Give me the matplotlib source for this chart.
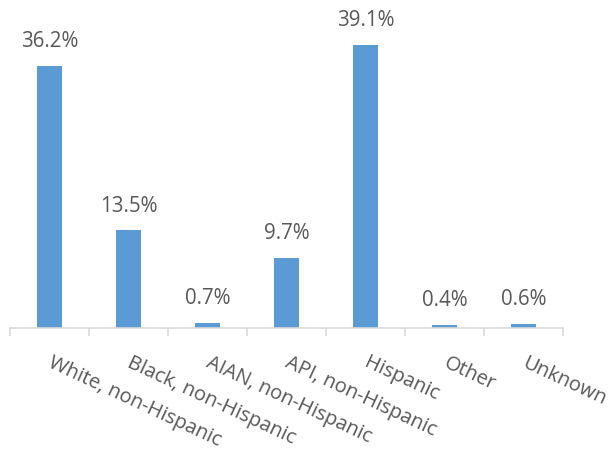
import matplotlib
matplotlib.use("Agg")
import matplotlib.pyplot as plt

categories = ["White, non-Hispanic", "Black, non-Hispanic", "AIAN, non-Hispanic",
              "API, non-Hispanic", "Hispanic", "Other", "Unknown"]
values = [36.2, 13.5, 0.7, 9.7, 39.1, 0.4, 0.6]
value_labels = ["36.2%", "13.5%", "0.7%", "9.7%", "39.1%", "0.4%", "0.6%"]

W, H = 610, 451
fig = plt.figure(figsize=(W / 100, H / 100), dpi=100)
ymax = 42
ax = fig.add_axes([10 / W, 123 / H, 553 / W, ymax * 7.23 / H])

bar_color = "#5B9BD5"
text_color = "#595959"
grid_color = "#D9D9D9"
font = "Open Sans"

x = list(range(len(categories)))
ax.bar(x, values, width=0.32, color=bar_color)
ax.set_xlim(-0.5, len(categories) - 0.5)
ax.set_ylim(0, ymax)

for xi, v, lab in zip(x, values, value_labels):
    ax.annotate(lab, (xi, v), xytext=(0, 10), textcoords="offset points",
                ha="center", va="bottom", fontsize=14.8, color=text_color,
                family=font)

for s in ["top", "right", "left"]:
    ax.spines[s].set_visible(False)
ax.spines["bottom"].set_color(grid_color)
ax.spines["bottom"].set_linewidth(1.2)
ax.set_yticks([])

ax.set_xticks([i - 0.5 for i in range(len(categories) + 1)])
ax.set_xticklabels([])
ax.tick_params(axis="x", length=6, width=1.2, color=grid_color, direction="out")

for xi, cat in zip(x, categories):
    ax.annotate(cat, (xi, 0), xytext=(3, -18), textcoords="offset points",
                rotation=-25, rotation_mode="anchor", ha="left", va="top",
                fontsize=14.5, color=text_color, family=font)

fig.savefig("out.png", dpi=100)
